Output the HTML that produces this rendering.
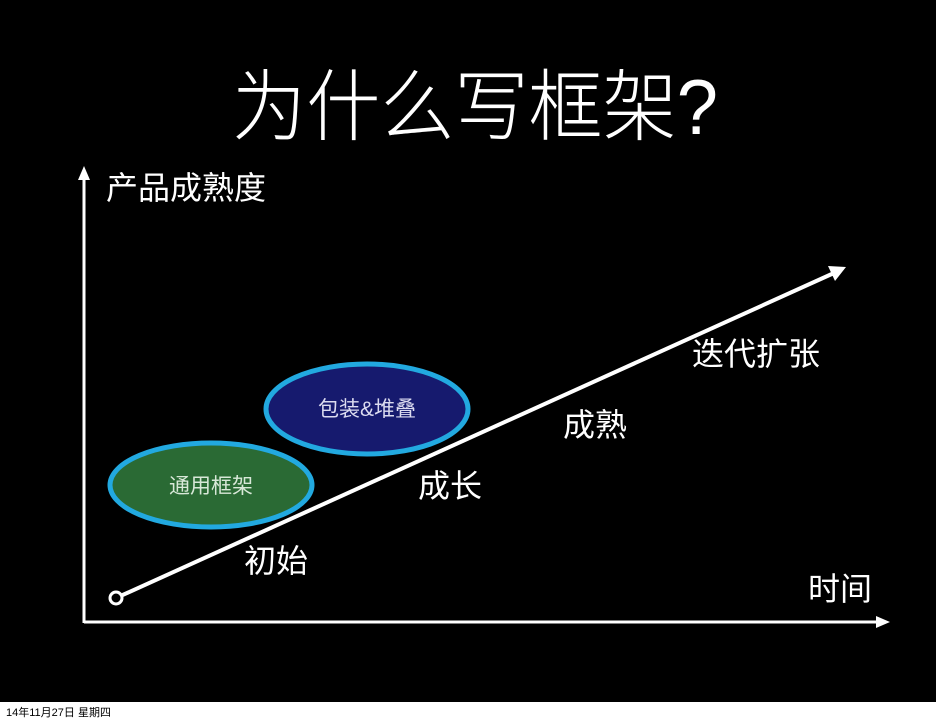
<!DOCTYPE html>
<html><head><meta charset="utf-8"><style>
html,body{margin:0;padding:0;background:#fff;}
svg{display:block;}
text{font-family:"Liberation Sans","Noto Sans CJK SC",sans-serif;fill:#fff;}
</style></head><body>
<svg width="936" height="720" viewBox="0 0 936 720" xmlns="http://www.w3.org/2000/svg">
<rect x="0" y="0" width="936" height="702" fill="#000"/>
<rect x="0" y="702" width="936" height="18" fill="#fff"/>
<text x="6" y="716" font-size="11" style="fill:#000">14年11月27日 星期四</text>
<text x="232" y="134" font-size="78" font-weight="300" textLength="486" lengthAdjust="spacingAndGlyphs">为什么写框架?</text>
<!-- axes -->
<line x1="84" y1="623" x2="84" y2="178" stroke="#fff" stroke-width="3"/>
<polygon points="84,166 78,180 90,180" fill="#fff"/>
<line x1="84" y1="622" x2="878" y2="622" stroke="#fff" stroke-width="3"/>
<polygon points="890,622 876,616 876,628" fill="#fff"/>
<text x="106" y="199" font-size="32">产品成熟度</text>
<text x="808" y="600" font-size="32">时间</text>
<!-- ellipses -->
<ellipse cx="211" cy="485" rx="101" ry="42" fill="#2a6a34" stroke="#22a9e0" stroke-width="5"/>
<text x="211" y="493" font-size="21" text-anchor="middle" style="fill:#d8e8d8">通用框架</text>
<ellipse cx="367" cy="409" rx="101" ry="45" fill="#161a6e" stroke="#22a9e0" stroke-width="5"/>
<text x="367" y="416" font-size="21" text-anchor="middle" style="fill:#dcdcf0">包装&amp;堆叠</text>
<!-- growth line -->
<line x1="116" y1="598" x2="834" y2="273" stroke="#fff" stroke-width="4"/>
<polygon points="846,267 828,266 835,281" fill="#fff"/>
<circle cx="116" cy="598" r="6" fill="#000" stroke="#fff" stroke-width="3"/>
<text x="244" y="572" font-size="32">初始</text>
<text x="418" y="497" font-size="32">成长</text>
<text x="563" y="436" font-size="32">成熟</text>
<text x="692" y="365" font-size="32">迭代扩张</text>
</svg>
</body></html>
